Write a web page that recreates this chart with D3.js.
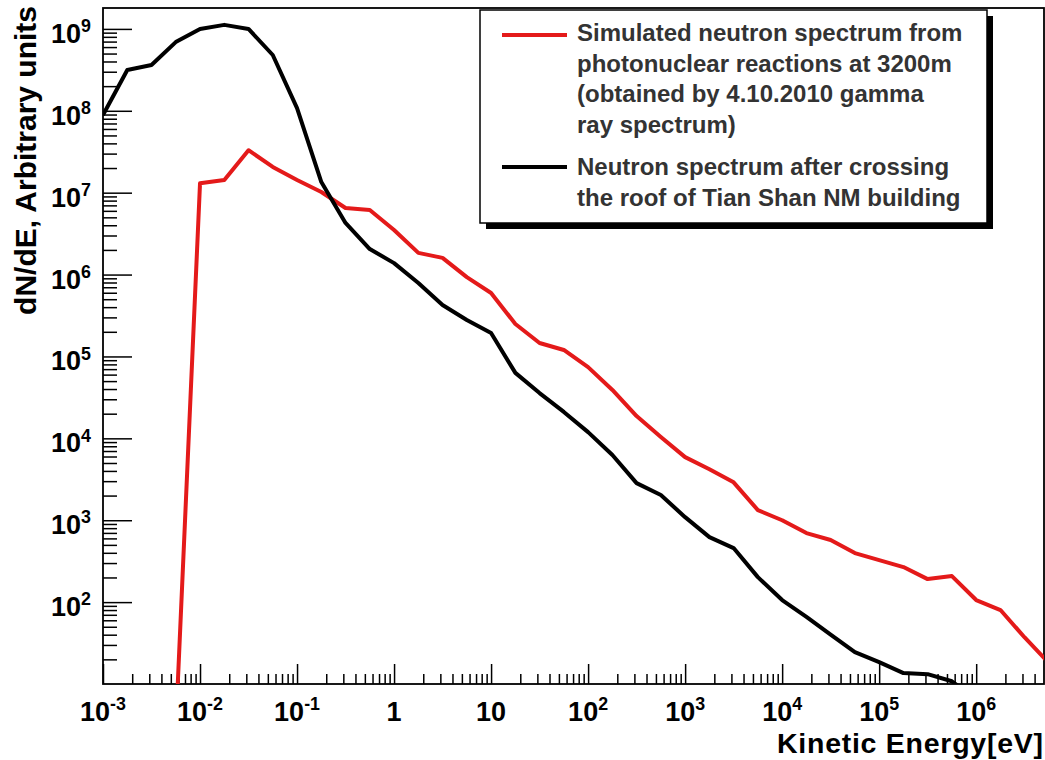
<!DOCTYPE html>
<html><head><meta charset="utf-8">
<script src="https://cdn.jsdelivr.net/npm/d3@7"></script>
<style>
body{margin:0;background:#fff}
text{font-family:"Liberation Sans",Arial,Helvetica,sans-serif;font-weight:bold}
</style>
</head><body>
<svg id="c" width="1045" height="760"></svg>
<script>
// Energy grid (eV), 4 points per decade
const energies = [0.001,0.00178,0.00316,0.00562,0.01,0.0178,0.0316,0.0562,0.1,0.178,0.316,0.562,
  1,1.78,3.16,5.62,10,17.8,31.6,56.2,100,178,316,562,1000,1780,3160,5620,
  1e4,1.78e4,3.16e4,5.62e4,1e5,1.78e5,3.16e5,5.62e5,1e6,1.78e6,3.16e6,5.62e6];
// Red: simulated spectrum, energies index 3..39
const redStart = 3;
const redValues = [2.8,1.3e7,1.43e7,3.3e7,2.06e7,1.43e7,1.02e7,6.5e6,6.15e6,3.5e6,1.84e6,1.6e6,
  9.3e5,5.96e5,2.49e5,1.46e5,1.2e5,7.4e4,3.9e4,1.87e4,1.04e4,5.9e3,4.2e3,2.9e3,1.33e3,1.0e3,
  697,573,397,326,268,191,208,106,80,37,18];
// Black: after crossing roof, energies index 0..36
const blackStart = 0;
const blackValues = [8.9e7,3.15e8,3.63e8,6.9e8,1.0e9,1.12e9,1.0e9,4.8e8,1.08e8,1.35e7,4.27e6,2.05e6,
  1.38e6,7.9e5,4.25e5,2.79e5,1.93e5,6.3e4,3.57e4,2.1e4,1.19e4,6.25e3,2.84e3,2.03e3,1.09e3,
  622,457,202,106,66,40,24.5,18.5,13.6,13.2,10.8,6.4];

const xMajor = [1e-3,1e-2,1e-1,1,10,1e2,1e3,1e4,1e5,1e6];
const xLabelBase = ["10","10","10","1","10","10","10","10","10","10"];
const xLabelExp  = ["-3","-2","-1","","","2","3","4","5","6"];
const yMajor = [1e2,1e3,1e4,1e5,1e6,1e7,1e8,1e9];
const yLabelExp = ["2","3","4","5","6","7","8","9"];

const xTitle = "Kinetic Energy[eV]";
const yTitle = "dN/dE, Arbitrary units";
const legendColors = ["#e41a1a","#000000"];
const legendLines = [
  ["Simulated neutron spectrum from","photonuclear reactions at 3200m","(obtained by 4.10.2010 gamma","ray spectrum)"],
  ["Neutron spectrum after crossing","the roof of Tian Shan NM building"]
];

const L=103, R=1044, T=8, B=684;
const svg = d3.select("#c");
const x = d3.scaleLog().domain([1e-3,5e6]).range([L,R]);
const y = d3.scaleLog().domain([10,1.8e9]).range([B,T]);

function minors(lo, hi, dom){
  const out=[];
  for(let e=lo;e<=hi;e++) for(let m=2;m<=9;m++){const v=m*Math.pow(10,e); if(v>dom[0]&&v<dom[1]) out.push(v);}
  return out;
}
const xMinor = minors(-3,6,[1e-3,4.9e6]);
const yMinor = minors(1,9,[10,1.8e9]);

// clip
svg.append("defs").append("clipPath").attr("id","clip").append("rect")
  .attr("x",L).attr("y",T).attr("width",R-L).attr("height",B-T);

// axes ticks
const gx = svg.append("g").attr("transform",`translate(0,${B})`);
gx.append("g").call(d3.axisBottom(x).tickValues(xMinor).tickSize(-10).tickFormat(""));
gx.append("g").call(d3.axisBottom(x).tickValues(xMajor).tickSize(-20).tickFormat(""));
const gy = svg.append("g").attr("transform",`translate(${L},0)`);
gy.append("g").call(d3.axisLeft(y).tickValues(yMinor).tickSize(-14).tickFormat(""));
gy.append("g").call(d3.axisLeft(y).tickValues(yMajor).tickSize(-29).tickFormat(""));
svg.selectAll(".domain").remove();
svg.selectAll(".tick line").attr("stroke","#000").attr("stroke-width",1.5);

// frame
svg.append("rect").attr("x",L).attr("y",T).attr("width",R-L).attr("height",B-T)
  .attr("fill","none").attr("stroke","#000").attr("stroke-width",1.8);

function supLabel(xp, yp, base, exp, anchor, size){
  const t = svg.append("text").attr("x",xp).attr("y",yp).attr("text-anchor",anchor)
    .style("font-size",size+"px").attr("fill","#000");
  t.append("tspan").text(base);
  if(exp) t.append("tspan").attr("dy",-0.4*size).style("font-size",(0.66*size)+"px").text(exp);
}
xMajor.forEach((v,i)=>supLabel(x(v), 721, xLabelBase[i], xLabelExp[i], "middle", 27));
yMajor.forEach((v,i)=>supLabel(91, y(v)+14, "10", yLabelExp[i], "end", 27));

// titles
svg.append("text").attr("x",1043).attr("y",753).attr("text-anchor","end")
  .attr("textLength",266).attr("lengthAdjust","spacing")
  .style("font-size","28.5px").text(xTitle);
svg.append("text").attr("transform","translate(36,6) rotate(-90)").attr("text-anchor","end")
  .style("font-size","30px").text(yTitle);

// curves
const line = d3.line().x(d=>x(d[0])).y(d=>y(d[1]));
const redData = redValues.map((v,i)=>[energies[i+redStart],v]);
const blackData = blackValues.map((v,i)=>[energies[i+blackStart],v]);
const gc = svg.append("g").attr("clip-path","url(#clip)");
gc.append("path").datum(redData).attr("d",line).attr("fill","none")
  .attr("stroke",legendColors[0]).attr("stroke-width",4).attr("stroke-linejoin","round");
gc.append("path").datum(blackData).attr("d",line).attr("fill","none")
  .attr("stroke",legendColors[1]).attr("stroke-width",4).attr("stroke-linejoin","round");

// legend
const lg = svg.append("g");
lg.append("rect").attr("x",486).attr("y",16).attr("width",507).attr("height",213).attr("fill","#000");
lg.append("rect").attr("x",480).attr("y",10).attr("width",507).attr("height",213)
  .attr("fill","#fff").attr("stroke","#000").attr("stroke-width",1.5);
const entryY = [41, 175];
const markY = [35, 167];
legendLines.forEach((lines,i)=>{
  lg.append("line").attr("x1",502).attr("x2",567).attr("y1",markY[i]).attr("y2",markY[i])
    .attr("stroke",legendColors[i]).attr("stroke-width",4);
  lines.forEach((s,j)=>{
    lg.append("text").attr("x",577).attr("y",entryY[i]+j*30.7).style("font-size","24px")
      .attr("fill","#333").text(s);
  });
});
</script>
</body></html>
